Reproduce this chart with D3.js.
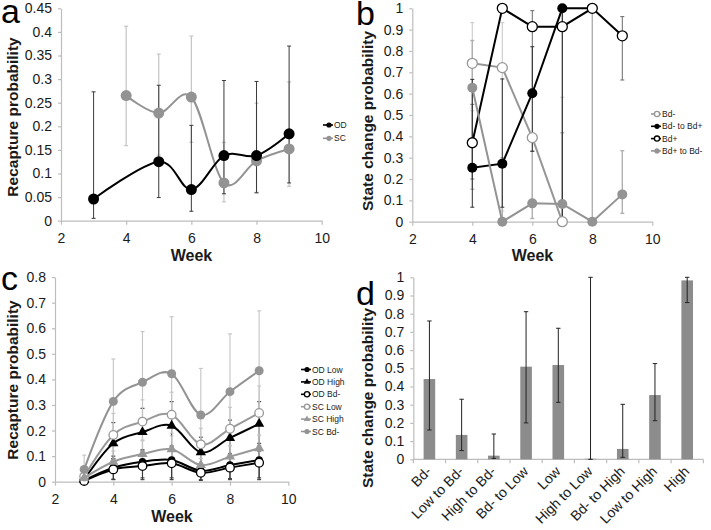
<!DOCTYPE html>
<html><head><meta charset="utf-8">
<script src="https://cdn.jsdelivr.net/npm/d3@7"></script>
<style>
body{margin:0;background:#fff}
text{font-family:"Liberation Sans",Arial,Helvetica,sans-serif}
</style>
</head><body>
<svg id="chart" width="711" height="530"></svg>
<script>
// ---------- DATA ----------
// Panel a: recapture probability by week
const aWeeksOD = [3,5,6,7,8,9];
const aOD   = [0.046,0.125,0.066,0.138,0.138,0.184];
const aODlo = [0.005,0.049,0.020,0.057,0.059,0.080];
const aODhi = [0.273,0.287,0.202,0.297,0.295,0.370];
const aWeeksSC = [4,5,6,7,8,9];
const aSC   = [0.265,0.228,0.262,0.080,0.127,0.152];
const aSClo = [0.159,0.139,0.166,0.040,0.060,0.073];
const aSChi = [0.412,0.353,0.391,0.166,0.249,0.294];

// Panel b: state change probability by week
const bWeeksNeg = [4,5,6,7];
const bNeg    = [0.742,0.722,0.394,0];
const bNegLo  = [0.52,0.05,0.10,0];
const bNegHi  = [0.933,0.933,0.60,0.583];
const bWeeksNegPos = [4,5,6,7,8];
const bNegPos   = [0.253,0.272,0.602,1,1];
const bNegPosLo = [0.068,0.068,0.33,0,1];
const bNegPosHi = [0.667,0.669,0.82,1,1];
const bWeeksPos = [4,5,6,7,8,9];
const bPos   = [0.370,1,0.914,0.914,1,0.871];
const bPosLo = [0.20,1,0.60,0,1,0.664];
const bPosHi = [0.55,1,0.989,1,1,0.961];
const bWeeksPosNeg = [4,5,6,7,8,9];
const bPosNeg   = [0.628,0,0.086,0.083,0,0.128];
const bPosNegLo = [0.152,0,0.015,0,0,0.039];
const bPosNegHi = [0.849,0.30,0.33,0.417,1,0.333];

// Panel c: recapture probability by infection class
const cWeeks = [3,4,5,6,7,8,9];
const cODLow    = [0.005,0.055,0.078,0.085,0.043,0.065,0.085];
const cODLowLo  = [0.001,0.010,0.015,0.015,0.008,0.012,0.015];
const cODLowHi  = [0.015,0.100,0.125,0.135,0.070,0.110,0.140];
const cODHigh   = [0.008,0.150,0.194,0.219,0.115,0.171,0.226];
const cODHighLo = [0.002,0.090,0.120,0.140,0.070,0.110,0.150];
const cODHighHi = [0.030,0.231,0.287,0.313,0.174,0.241,0.313];
const cODBd     = [0.003,0.048,0.061,0.072,0.035,0.055,0.074];
const cODBdLo   = [0.001,0.008,0.008,0.008,0.005,0.008,0.008];
const cODBdHi   = [0.010,0.090,0.110,0.120,0.060,0.100,0.120];
const cSCLow    = [0.020,0.183,0.235,0.262,0.146,0.207,0.269];
const cSCLowLo  = [0.005,0.120,0.160,0.190,0.090,0.140,0.180];
const cSCLowHi  = [0.060,0.267,0.320,0.350,0.209,0.291,0.374];
const cSCHigh   = [0.015,0.078,0.108,0.127,0.065,0.098,0.131];
const cSCHighLo = [0.003,0.040,0.060,0.080,0.030,0.050,0.080];
const cSCHighHi = [0.030,0.137,0.163,0.179,0.091,0.141,0.183];
const cSCBd     = [0.048,0.314,0.389,0.422,0.261,0.352,0.434];
const cSCBdLo   = [0.010,0.180,0.230,0.260,0.130,0.190,0.240];
const cSCBdHi   = [0.104,0.480,0.587,0.645,0.443,0.578,0.668];

// Panel d: state change probabilities by category
const dCats = ["Bd-","Low to Bd-","High to Bd-","Bd- to Low","Low","High to Low","Bd- to High","Low to High","High"];
const dVals = [0.441,0.134,0.020,0.509,0.518,0.003,0.057,0.353,0.983];
const dLo   = [0.161,0.048,0.005,0.200,0.313,0.000,0.011,0.212,0.861];
const dHi   = [0.760,0.330,0.139,0.811,0.720,1.000,0.302,0.526,1.000];

const weekTicks = [2,4,6,8,10];

// ---------- HELPERS ----------
const svg = d3.select("#chart");
const AXIS = "#bdbdbd", TXT = "#1a1a1a";
const fmt = d => d === 0 ? "0" : String(+d.toFixed(2));

function styleAxis(g){
  g.select(".domain").attr("stroke",AXIS).attr("stroke-width",1.2);
  g.selectAll(".tick line").attr("stroke",AXIS).attr("stroke-width",1.2);
  g.selectAll(".tick text").attr("fill",TXT).attr("font-size",14)
    .attr("font-family",'"Liberation Sans",Arial,sans-serif');
}
function axes(x, y, yTicks, xAxisFn){
  const gy = svg.append("g").attr("transform",`translate(${x.range()[0]},0)`)
    .call(d3.axisLeft(y).tickValues(yTicks).tickSize(3).tickPadding(6).tickSizeOuter(0).tickFormat(fmt));
  styleAxis(gy);
  const gx = svg.append("g").attr("transform",`translate(0,${y(0)})`)
    .call(xAxisFn);
  styleAxis(gx);
  return gx;
}
function yTitle(txt, x, y){
  svg.append("text").attr("transform",`translate(${x},${y}) rotate(-90)`)
    .attr("text-anchor","middle").attr("font-weight","bold").attr("font-size",15.5)
    .attr("fill",TXT).text(txt);
}
function xTitle(txt, x, y){
  svg.append("text").attr("x",x).attr("y",y).attr("text-anchor","middle")
    .attr("font-weight","bold").attr("font-size",16).attr("fill",TXT).text(txt);
}
function letter(t, x, y){
  svg.append("text").attr("x",x).attr("y",y).attr("font-size",34).attr("fill","#000").text(t);
}
function errBars(g, x, y, xs, lo, hi, color, w){
  xs.forEach((wk,i)=>{
    if (lo[i] === hi[i]) return;
    const cx = x(wk);
    g.append("line").attr("x1",cx).attr("x2",cx).attr("y1",y(lo[i])).attr("y2",y(hi[i]))
      .attr("stroke",color).attr("stroke-width",w||1);
    [lo[i],hi[i]].forEach(v=>{
      g.append("line").attr("x1",cx-2).attr("x2",cx+2).attr("y1",y(v)).attr("y2",y(v))
        .attr("stroke",color).attr("stroke-width",w||1);
    });
  });
}
function marker(g, type, cx, cy, r, fill, stroke){
  if (type === "tri"){
    g.append("path").attr("d", d3.symbol(d3.symbolTriangle, r*r*2.6)())
      .attr("transform",`translate(${cx},${cy})`).attr("fill",fill);
  } else {
    g.append("circle").attr("cx",cx).attr("cy",cy).attr("r",r)
      .attr("fill",fill).attr("stroke",stroke||"none").attr("stroke-width",stroke?1.3:0);
  }
}
function series(g, x, y, xs, vals, s, curve){
  const pts = xs.map((w,i)=>[x(w), y(vals[i])]);
  g.append("path").attr("d", d3.line().curve(curve)(pts))
    .attr("fill","none").attr("stroke",s.line).attr("stroke-width",s.lw||2);
  pts.forEach(p=>marker(g, s.type, p[0], p[1], s.r, s.fill, s.stroke));
}
function legend(items, x0, y0, dy){
  items.forEach((s,i)=>{
    const yy = y0 + i*dy;
    svg.append("line").attr("x1",x0).attr("x2",x0+10).attr("y1",yy).attr("y2",yy)
      .attr("stroke",s.line).attr("stroke-width",1.6);
    marker(svg, s.type, x0+6, yy, 2.6, s.fill, s.stroke ? s.stroke : null);
    svg.append("text").attr("x",x0+11).attr("y",yy+3).attr("font-size",8.5)
      .attr("fill",TXT).text(s.name);
  });
}
const smooth = d3.curveCardinal.tension(0);

// ---------- PANEL A ----------
{
  const x = d3.scaleLinear().domain([2,10]).range([61,321.7]);
  const y = d3.scaleLinear().domain([0,0.45]).range([220.7,8.3]);
  axes(x, y, d3.range(0,0.451,0.05),
    d3.axisBottom(x).tickValues(weekTicks).tickSize(4).tickPadding(8).tickSizeOuter(0));
  const g = svg.append("g");
  errBars(g, x, y, aWeeksSC, aSClo, aSChi, "#c4c4c4", 1.2);
  errBars(g, x, y, aWeeksOD, aODlo, aODhi, "#3a3a3a", 1);
  const OD = {name:"OD", line:"#000", fill:"#000", type:"circle", r:5.5};
  const SC = {name:"SC", line:"#939393", fill:"#939393", type:"circle", r:5.5};
  series(g, x, y, aWeeksSC, aSC, SC, smooth);
  series(g, x, y, aWeeksOD, aOD, OD, smooth);
  legend([OD, SC], 323, 125, 13.3);
  letter("a", 1, 23);
  yTitle("Recapture probability", 18, 117);
  xTitle("Week", 191.5, 261);
}

// ---------- PANEL B ----------
{
  const x = d3.scaleLinear().domain([2,10]).range([412.3,652.3]);
  const y = d3.scaleLinear().domain([0,1]).range([221.7,8.3]);
  axes(x, y, d3.range(0,1.001,0.1),
    d3.axisBottom(x).tickValues(weekTicks).tickSize(4).tickPadding(8).tickSizeOuter(0));
  const g = svg.append("g");
  errBars(g, x, y, bWeeksNeg, bNegLo, bNegHi, "#cfcfcf", 1.2);
  errBars(g, x, y, bWeeksPosNeg, bPosNegLo, bPosNegHi, "#b0b0b0", 1.4);
  errBars(g, x, y, bWeeksPos, bPosLo, bPosHi, "#6a6a6a", 1);
  errBars(g, x, y, bWeeksNegPos, bNegPosLo, bNegPosHi, "#2e2e2e", 1);
  const NEG = {name:"Bd-", line:"#969696", fill:"#fff", stroke:"#969696", type:"circle", r:5};
  const NEGPOS = {name:"Bd- to Bd+", line:"#000", fill:"#000", type:"circle", r:5};
  const POS = {name:"Bd+", line:"#000", fill:"#fff", stroke:"#000", type:"circle", r:5};
  const POSNEG = {name:"Bd+ to Bd-", line:"#939393", fill:"#939393", type:"circle", r:5};
  series(g, x, y, bWeeksNeg, bNeg, NEG, d3.curveLinear);
  series(g, x, y, bWeeksNegPos, bNegPos, NEGPOS, d3.curveLinear);
  series(g, x, y, bWeeksPos, bPos, POS, d3.curveLinear);
  series(g, x, y, bWeeksPosNeg, bPosNeg, POSNEG, d3.curveLinear);
  legend([NEG, NEGPOS, POS, POSNEG], 651, 114, 12.3);
  letter("b", 356, 25);
  yTitle("State change probability", 373, 121);
  xTitle("Week", 532.5, 261);
}

// ---------- PANEL C ----------
{
  const x = d3.scaleLinear().domain([2,10]).range([55,288.3]);
  const y = d3.scaleLinear().domain([0,0.8]).range([481.7,277.1]);
  axes(x, y, d3.range(0,0.801,0.1),
    d3.axisBottom(x).tickValues(weekTicks).tickSize(4).tickPadding(8).tickSizeOuter(0));
  const g = svg.append("g");
  const S = [
    {name:"OD Low",  line:"#000", fill:"#000", type:"circle", r:3.8, v:cODLow, lo:cODLowLo, hi:cODLowHi, ec:"#3a3a3a"},
    {name:"OD High", line:"#000", fill:"#000", type:"tri", r:4.2, v:cODHigh, lo:cODHighLo, hi:cODHighHi, ec:"#3a3a3a"},
    {name:"OD Bd-",  line:"#000", fill:"#fff", stroke:"#000", type:"circle", r:4.3, v:cODBd, lo:cODBdLo, hi:cODBdHi, ec:"#3a3a3a"},
    {name:"SC Low",  line:"#999", fill:"#fff", stroke:"#999", type:"circle", r:4.3, v:cSCLow, lo:cSCLowLo, hi:cSCLowHi, ec:"#c4c4c4"},
    {name:"SC High", line:"#999", fill:"#999", type:"tri", r:4.2, v:cSCHigh, lo:cSCHighLo, hi:cSCHighHi, ec:"#c4c4c4"},
    {name:"SC Bd-",  line:"#939393", fill:"#939393", type:"circle", r:4.5, v:cSCBd, lo:cSCBdLo, hi:cSCBdHi, ec:"#c4c4c4"}
  ];
  S.forEach(s=>errBars(g, x, y, cWeeks, s.lo, s.hi, s.ec, 1.1));
  S.forEach(s=>series(g, x, y, cWeeks, s.v, s, smooth));
  legend(S, 301, 369.5, 12.4);
  letter("c", 1, 290);
  yTitle("Recapture probability", 18, 380);
  xTitle("Week", 172, 522);
}

// ---------- PANEL D ----------
{
  const x = d3.scaleBand().domain(dCats).range([413.3,703.3]).paddingInner(0.64).paddingOuter(0.32);
  const y = d3.scaleLinear().domain([0,1]).range([459.3,277.3]);
  const gy = svg.append("g").attr("transform",`translate(413.3,0)`)
    .call(d3.axisLeft(y).tickValues(d3.range(0,1.001,0.1)).tickSize(3).tickPadding(6).tickSizeOuter(0).tickFormat(fmt));
  styleAxis(gy);
  const gx = svg.append("g").attr("transform",`translate(0,${y(0)})`);
  gx.append("line").attr("x1",413.3).attr("x2",703.3).attr("y1",0).attr("y2",0).attr("stroke",AXIS).attr("stroke-width",1.2);
  const step = x.step();
  d3.range(dCats.length+1).forEach(i=>{
    const xx = 413.3 + i*step;
    gx.append("line").attr("x1",xx).attr("x2",xx).attr("y1",0).attr("y2",4).attr("stroke",AXIS).attr("stroke-width",1.2);
  });
  const g = svg.append("g");
  g.selectAll("rect").data(dCats).join("rect")
    .attr("x", d=>x(d)).attr("width", x.bandwidth())
    .attr("y",(d,i)=>y(dVals[i])).attr("height",(d,i)=>y(0)-y(dVals[i]))
    .attr("fill","#8c8c8c");
  dCats.forEach((c,i)=>{
    const cx = x(c) + x.bandwidth()/2;
    g.append("line").attr("x1",cx).attr("x2",cx).attr("y1",y(dLo[i])).attr("y2",y(dHi[i])).attr("stroke","#222").attr("stroke-width",1);
    [dLo[i],dHi[i]].forEach(v=>g.append("line").attr("x1",cx-2.2).attr("x2",cx+2.2).attr("y1",y(v)).attr("y2",y(v)).attr("stroke","#222").attr("stroke-width",1));
    svg.append("text").attr("transform",`translate(${cx+3},${y(0)+13}) rotate(-45)`)
      .attr("text-anchor","end").attr("font-size",14).attr("fill",TXT).text(c);
  });
  letter("d", 356, 305);
  yTitle("State change probability", 373, 398);
}
</script>
</body></html>
